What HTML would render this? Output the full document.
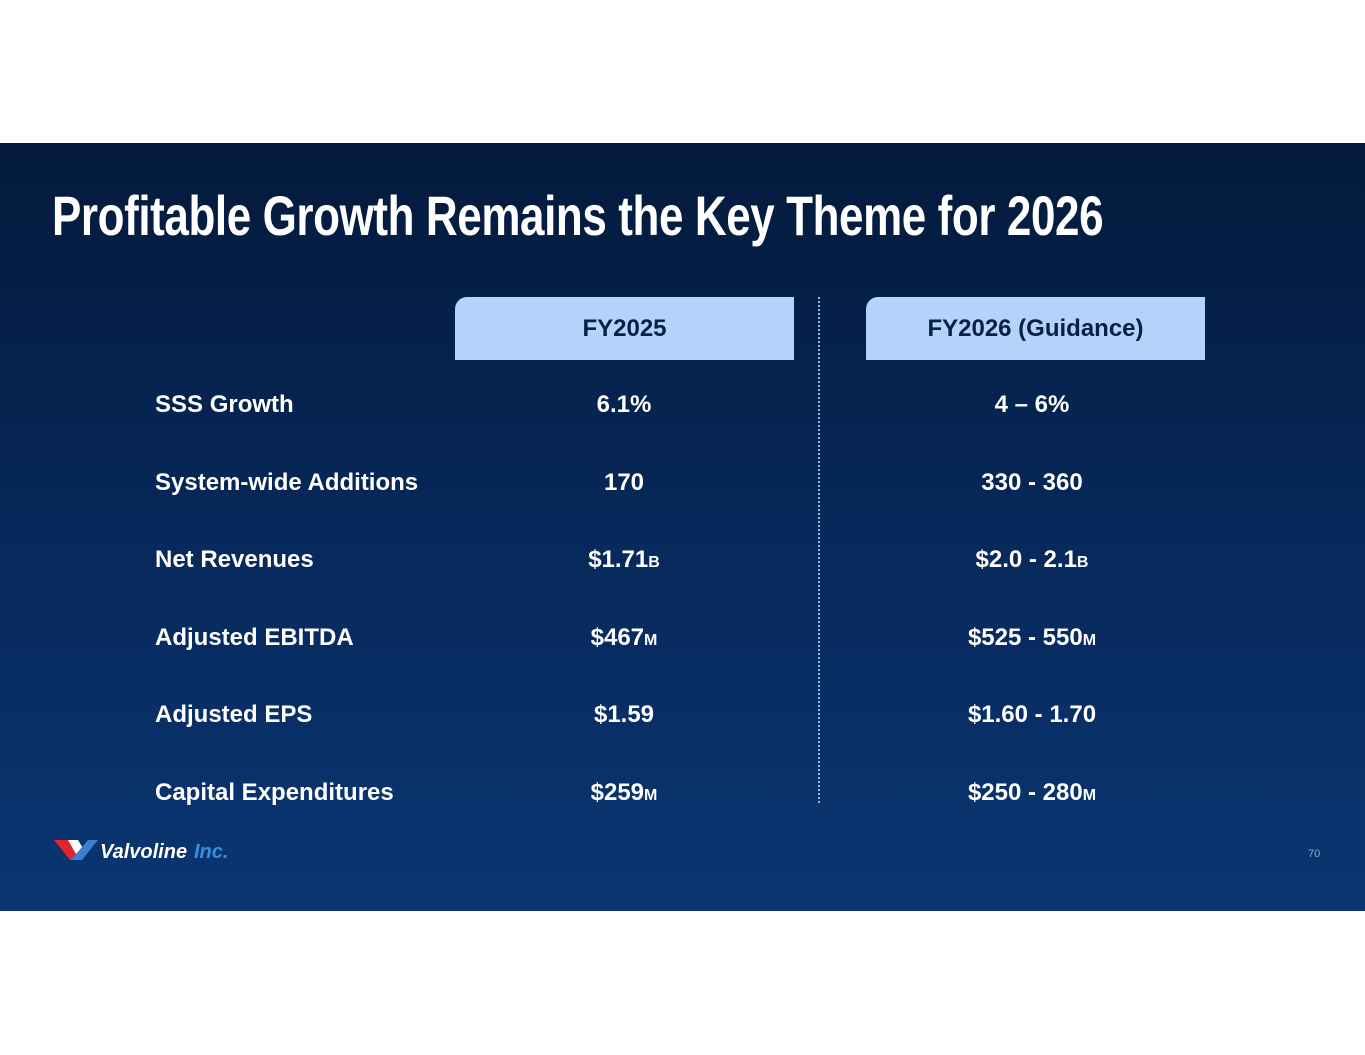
<!DOCTYPE html>
<html><head><meta charset="utf-8"><style>
body{margin:0;width:1365px;height:1055px;background:#fff;position:relative;font-family:"Liberation Sans",Arial,sans-serif;overflow:hidden}
#slide{position:absolute;left:0;top:143px;width:1365px;height:768px;background:linear-gradient(180deg,#031a3b 0%,#07285a 50%,#0b3672 100%)}
#title{position:absolute;left:52px;top:40px;color:#fff;font-weight:bold;font-size:56px;white-space:nowrap;transform:scaleX(0.785);transform-origin:left top;letter-spacing:-0.5px}
.hdr{position:absolute;top:154px;height:63px;width:339px;background:#b3d3fb;border-top-left-radius:12px;color:#0a1f44;font-weight:bold;font-size:24px;line-height:63px;text-align:center}
.lbl{position:absolute;left:155px;color:#fff;font-weight:bold;font-size:24px;transform:translateY(-50%)}
.val{position:absolute;color:#fff;font-weight:bold;font-size:24px;text-align:center;width:340px;transform:translateY(-50%)}
.val small{font-size:16px}
#div{position:absolute;left:818px;top:154px;height:506px;border-left:2px dotted #9ab7e0}
#pg{position:absolute;left:1308px;top:705px;color:#8ea6c8;font-size:11px}
</style></head><body>
<div id="slide">
<div id="title">Profitable Growth Remains the Key Theme for 2026</div>
<div class="hdr" style="left:455px">FY2025</div>
<div class="hdr" style="left:866px">FY2026 (Guidance)</div>
<div id="div"></div>
<div id="rows"></div>
<svg style="position:absolute;left:54px;top:695px" width="190" height="24">
<polygon points="0,2 14,2 22,16 16,22" fill="#e2242f"/>
<polygon points="14,2 24,2 30,12 22,16" fill="#fff"/>
<polygon points="16,22 22,16 34,2 44,2 28,22" fill="#3a7fd0"/>
<text x="46" y="20" fill="#fff" font-weight="bold" font-size="20" font-style="italic" font-family="Liberation Sans">Valvoline</text>
<text x="140" y="20" fill="#3a8ee0" font-weight="bold" font-size="20" font-style="italic" font-family="Liberation Sans">Inc.</text>
</svg>
<div id="pg">70</div>
</div>
<script>
const labels=["SSS Growth","System-wide Additions","Net Revenues","Adjusted EBITDA","Adjusted EPS","Capital Expenditures"];
const fy2025=["6.1%","170","$1.71<small>B</small>","$467<small>M</small>","$1.59","$259<small>M</small>"];
const fy2026=["4 – 6%","330 - 360","$2.0 - 2.1<small>B</small>","$525 - 550<small>M</small>","$1.60 - 1.70","$250 - 280<small>M</small>"];
const rows=document.getElementById('rows');
labels.forEach((l,i)=>{
const y=262+i*77.6;
const a=document.createElement('div');a.className='lbl';a.style.top=y+'px';a.textContent=l;


rows.appendChild(a);
const b=document.createElement('div');b.className='val';b.style.left='454px';b.style.top=y+'px';b.innerHTML=fy2025[i];


rows.appendChild(b);
const c=document.createElement('div');c.className='val';c.style.left='862px';c.style.top=y+'px';c.innerHTML=fy2026[i];


rows.appendChild(c);
});
</script>
</body></html>
